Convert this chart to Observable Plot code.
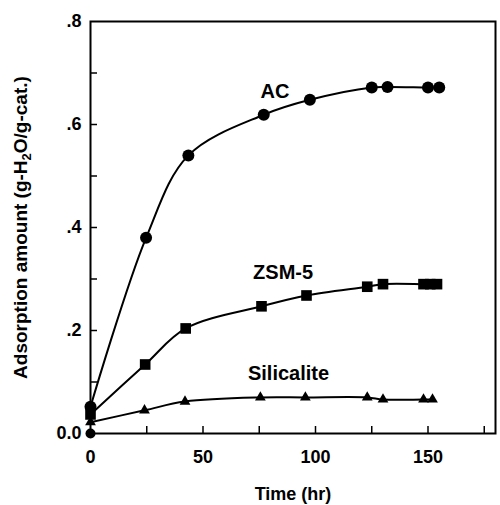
<!DOCTYPE html>
<html><head><meta charset="utf-8">
<script src="https://cdn.jsdelivr.net/npm/d3@7"></script>
<script src="https://cdn.jsdelivr.net/npm/@observablehq/plot@0.6"></script>
<style>body{margin:0;background:#fff}</style>
</head><body><div id="chart"></div>
<script>
// Data
const acTime = [0, 24.7, 43.5, 77, 97.5, 125, 132, 150, 155];
const acValue = [0.052, 0.38, 0.54, 0.619, 0.648, 0.672, 0.673, 0.672, 0.672];
const zsmTime = [0, 24.3, 42.3, 76, 96, 123, 130, 148, 151, 154];
const zsmValue = [0.037, 0.134, 0.204, 0.247, 0.268, 0.285, 0.29, 0.29, 0.29, 0.29];
const silTime = [0, 24, 42, 75.5, 95.5, 123, 130, 148, 152];
const silValue = [0.022, 0.045, 0.062, 0.07, 0.07, 0.07, 0.066, 0.066, 0.066];
const zeroTime = [0];
const zeroValue = [0];

const labelNames = ["AC", "ZSM-5", "Silicalite"];
const labelTime = [82, 85.6, 88];
const labelValue = [0.664, 0.313, 0.117];

const xTicks = [0, 50, 100, 150];
const xMinorTicks = [25, 50, 75, 100, 125, 150, 175];
const yTicks = [0, 0.2, 0.4, 0.6, 0.8];
const yMinorTicks = [0.1, 0.2, 0.3, 0.4, 0.5, 0.6, 0.7];

const toRows = (t, v) => t.map((d, i) => ({time: d, value: v[i]}));
const series = [
  {rows: toRows(acTime, acValue), symbol: "circle", r: 6},
  {rows: toRows(zsmTime, zsmValue), symbol: "square", r: 6},
  {rows: toRows(silTime, silValue), symbol: "triangle", r: 4}
];
const zeroRows = toRows(zeroTime, zeroValue);
const labelRows = labelNames.map((n, i) => ({name: n, time: labelTime[i], value: labelValue[i]}));

const W = 500, H = 505, mL = 90, mR = 5, mT = 21, mB = 72;
const innerW = W - mL - mR, innerH = H - mT - mB;

const marks = [
  Plot.frame({stroke: "black", strokeWidth: 2}),
  Plot.tickX(xMinorTicks, {x: d => d, insetTop: innerH - 7, stroke: "black", strokeWidth: 1.5}),
  Plot.tickY(yMinorTicks, {y: d => d, insetRight: innerW - 7, stroke: "black", strokeWidth: 1.5})
];
for (const s of series) {
  marks.push(Plot.line(s.rows, {x: "time", y: "value", curve: "catmull-rom", stroke: "black", strokeWidth: 2}));
  marks.push(Plot.dot(s.rows, {x: "time", y: "value", symbol: s.symbol, r: s.r, fill: "black", stroke: "none"}));
}
marks.push(Plot.dot(zeroRows, {x: "time", y: "value", r: 5, fill: "black"}));
marks.push(Plot.text(labelRows, {x: "time", y: "value", text: "name", fontSize: 20, fontWeight: "bold", fill: "black"}));
marks.push(Plot.axisX({ticks: xTicks, tickSize: 0, tickPadding: 17, tickFormat: d => String(d), fontSize: 18,
  label: "Time (hr)", labelAnchor: "center", labelArrow: "none", labelOffset: 66}));
marks.push(Plot.axisY({ticks: yTicks, tickSize: 0, tickPadding: 9, fontSize: 18,
  tickFormat: d => d === 0 ? "0.0" : d3.format(".1f")(d).replace(/^0/, ""),
  label: "Adsorption amount (g-H2O/g-cat.)", labelAnchor: "center", labelArrow: "none", labelOffset: 77}));

const chart = Plot.plot({
  width: W, height: H,
  marginLeft: mL, marginRight: mR, marginTop: mT, marginBottom: mB,
  x: {domain: [0, 180]},
  y: {domain: [0, 0.8]},
  style: {fontFamily: "'Liberation Sans', Arial, sans-serif", fontWeight: "bold", fontSize: "18px", color: "black", background: "white"},
  marks
});
document.getElementById("chart").appendChild(chart);

// Subscript the 2 in H2O, and size the y title
d3.select(chart).selectAll("text").each(function() {
  const t = d3.select(this);
  if (this.textContent === "Adsorption amount (g-H2O/g-cat.)") {
    t.attr("font-size", 19);
    t.text(null);
    t.append("tspan").text("Adsorption amount (g-H");
    t.append("tspan").attr("font-size", "13px").attr("dy", "4").text("2");
    t.append("tspan").attr("dy", "-4").text("O/g-cat.)");
  }
});
</script></body></html>
